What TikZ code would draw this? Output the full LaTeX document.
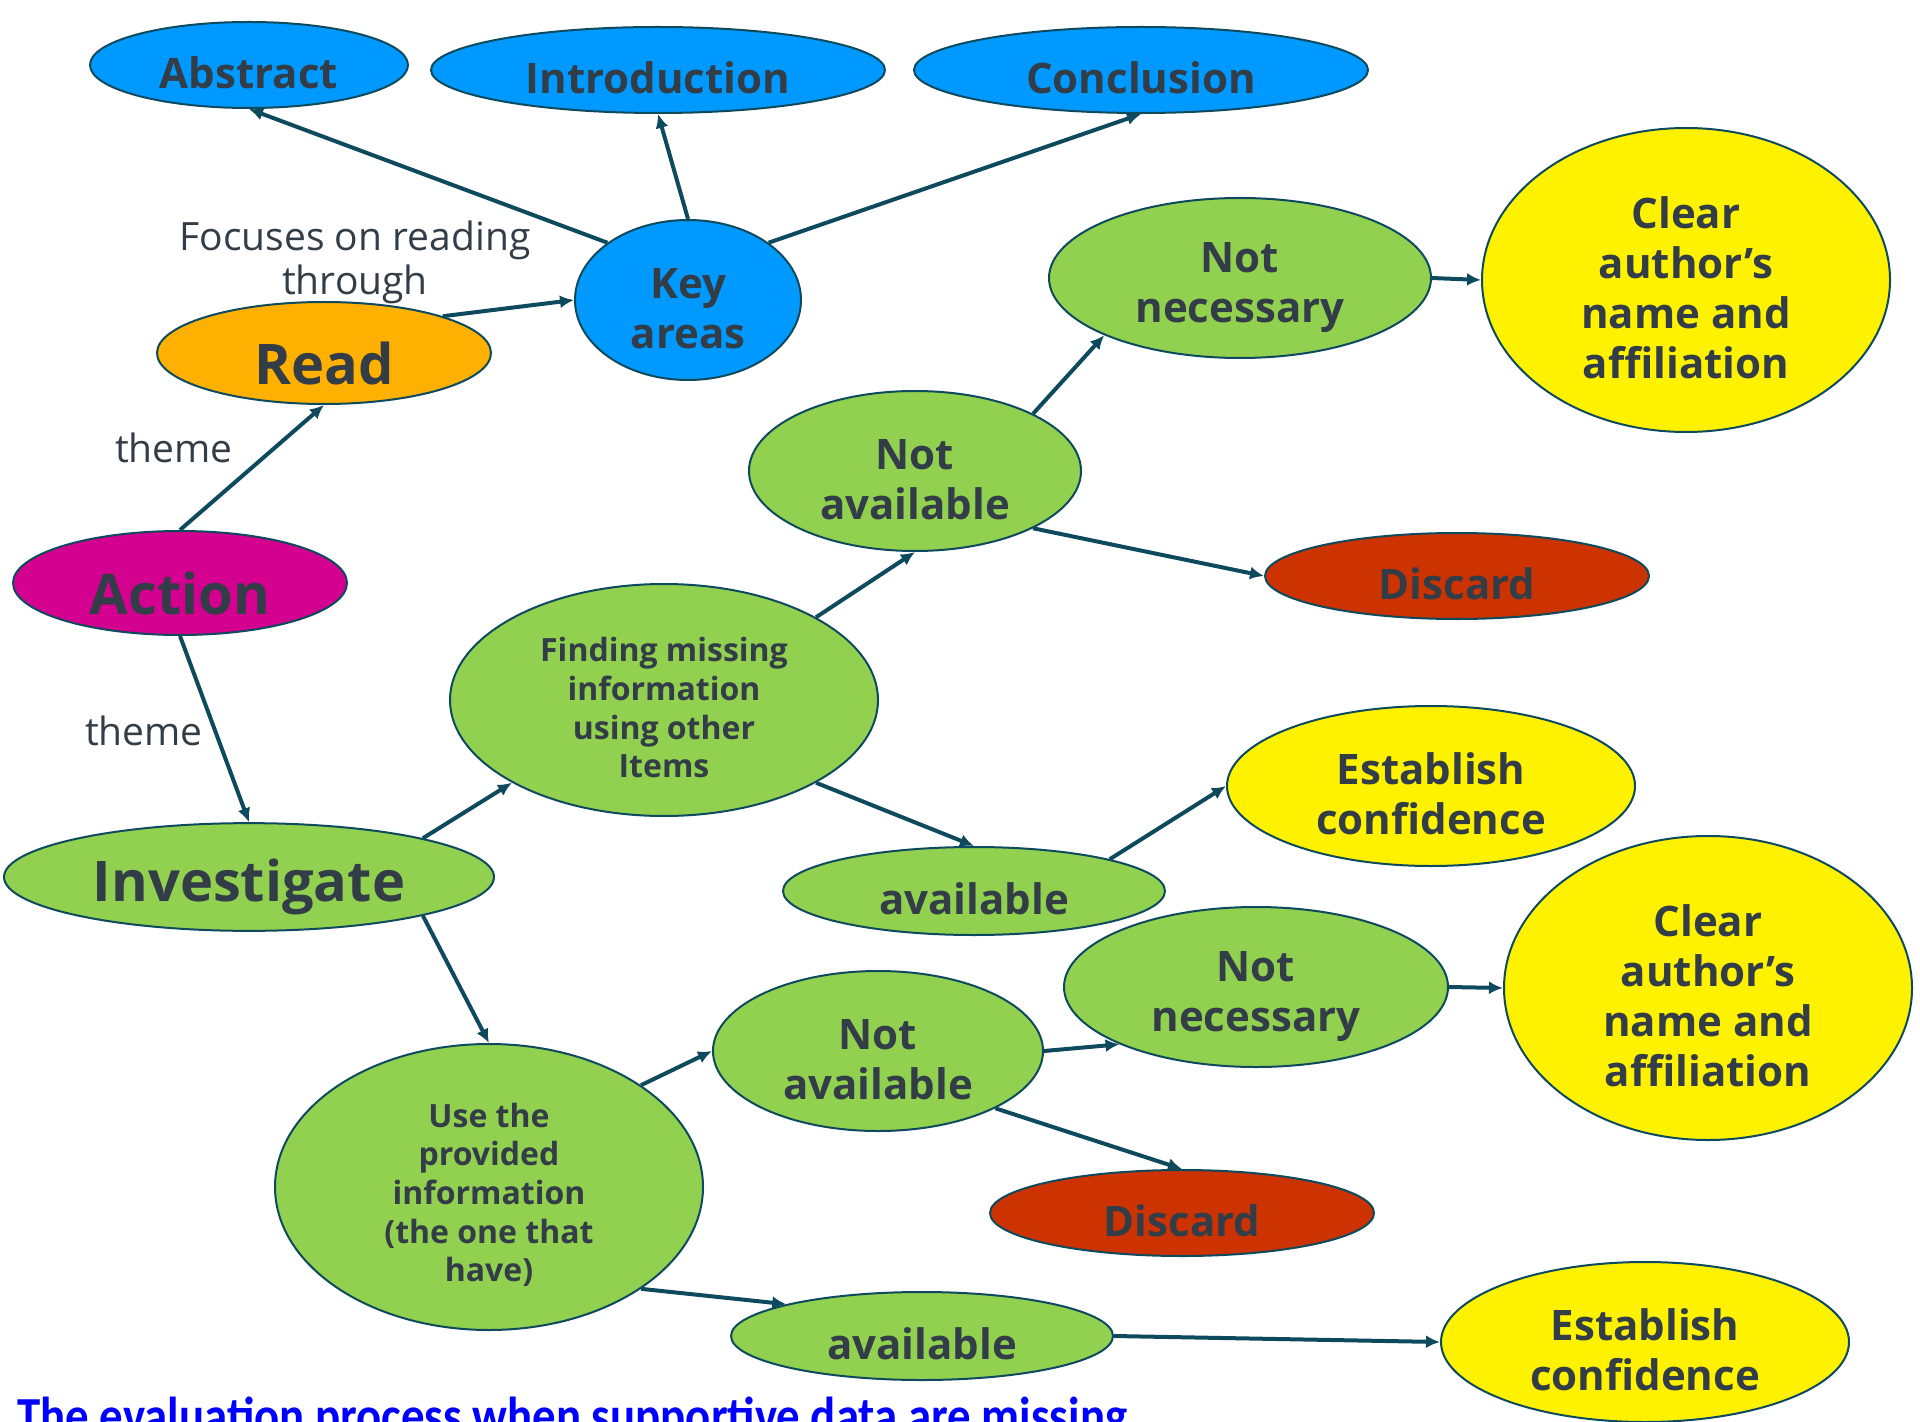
\documentclass[tikz,border=0pt]{standalone}
\usepackage{fontspec}
\setmainfont{Open Sans}
\newfontfamily\capfont{Carlito}
\usetikzlibrary{arrows.meta,shapes.geometric}
\definecolor{edge}{HTML}{0D4A5E}
\definecolor{ink}{HTML}{333D47}
\definecolor{skyblue}{HTML}{0099FF}
\definecolor{amber}{HTML}{FFB000}
\definecolor{magenta}{HTML}{D4008F}
\definecolor{leaf}{HTML}{92D050}
\definecolor{rust}{HTML}{CC3300}
\newcommand\lift[1][1.15em]{\rule{0pt}{#1}}

\begin{document}
\begin{tikzpicture}[x=.5pt,y=-.5pt,
    bub/.style={ellipse,draw=edge,line width=1pt,inner sep=0pt,align=center,text=ink,
      font=\fontsize{21}{25}\selectfont\bfseries,execute at begin node={\rule{0pt}{1.12em}}},
    big/.style={bub,font=\fontsize{28}{32}\selectfont\bfseries},
    small/.style={bub,font=\fontsize{16}{19.3}\selectfont\bfseries},
    arr/.style={-{Latex[length=7pt,width=6.5pt]},line width=2pt,draw=edge},
    lbl/.style={text=ink,align=center,font=\fontsize{19.5}{22}\selectfont}]
    \useasboundingbox (0,0) rectangle (1920,1422);
    % top row
    \node[bub,fill=skyblue,minimum width=159pt,minimum height=43pt] (abs) at (249,65) {Abstract};
    \node[bub,fill=skyblue,minimum width=227pt,minimum height=43pt] (intro) at (658,70) {Introduction};
    \node[bub,fill=skyblue,minimum width=227pt,minimum height=43pt] (concl) at (1141,70) {Conclusion};
    \node[bub,fill=skyblue,minimum width=113pt,minimum height=80pt] (key) at (688,300) {\lift Key\\areas};
    \node[big,fill=amber,minimum width=167pt,minimum height=51pt] (read) at (324,353) {Read};
    \node[big,fill=magenta,minimum width=167pt,minimum height=52pt] (act) at (180,583) {Action};
    \node[big,fill=leaf,minimum width=245pt,minimum height=53pt] (inv) at (249,877) {Investigate};
    % finding branch
    \node[small,fill=leaf,minimum width=214pt,minimum height=116pt] (find) at (664,700) {\lift[1.25em]Finding missing\\information\\using other\\Items};
    \node[bub,fill=leaf,minimum width=166pt,minimum height=80pt] (na1) at (915,471) {\lift Not\\available};
    \node[bub,fill=leaf,minimum width=191pt,minimum height=80pt] (nn1) at (1240,278) {\lift Not\\necessary};
    \node[bub,fill=yellow,minimum width=204pt,minimum height=152pt] (clr1) at (1686,280) {\lift Clear\\author's\\name and\\affiliation};
    \node[bub,fill=rust,minimum width=192pt,minimum height=43pt] (dis1) at (1457,576) {Discard};
    \node[bub,fill=leaf,minimum width=191pt,minimum height=44pt] (av1) at (974,891) {available};
    \node[bub,fill=yellow,minimum width=204pt,minimum height=80pt] (est1) at (1431,786) {\lift Establish\\confidence};
    % provided branch
    \node[small,fill=leaf,minimum width=214pt,minimum height=143pt] (use) at (489,1187) {\lift[1.25em]Use the\\provided\\information\\(the one that\\have)};
    \node[bub,fill=leaf,minimum width=165pt,minimum height=80pt] (na2) at (878,1051) {\lift Not\\available};
    \node[bub,fill=leaf,minimum width=192pt,minimum height=80pt] (nn2) at (1256,987) {\lift Not\\necessary};
    \node[bub,fill=yellow,minimum width=204pt,minimum height=152pt] (clr2) at (1708,988) {\lift Clear\\author's\\name and\\affiliation};
    \node[bub,fill=rust,minimum width=192pt,minimum height=43pt] (dis2) at (1182,1213) {Discard};
    \node[bub,fill=leaf,minimum width=191pt,minimum height=44pt] (av2) at (922,1336) {available};
    \node[bub,fill=yellow,minimum width=204pt,minimum height=80pt] (est2) at (1645,1342) {\lift Establish\\confidence};
    % labels
    \node[lbl] (focus) at (355,262) {Focuses on reading\\through};
    \node[lbl] (th1) at (174,448) {theme};
    \node[lbl] (th2) at (144,731) {theme};
    \node[anchor=base west,inner sep=0pt,text=blue,font=\capfont\fontsize{26}{30}\selectfont\bfseries] (cap) at (17,1433) {\scalebox{.9}[1]{The evaluation process when supportive data are missing}};
    % connectors
    \draw[arr] (key.north west) -- (abs.south);
    \draw[arr] (key.north) -- (intro.south);
    \draw[arr] (key.north east) -- (concl.south);
    \draw[arr] (read.north east) -- (key.west);
    \draw[arr] (act.north) -- (read.south);
    \draw[arr] (act.south) -- (inv.north);
    \draw[arr] (inv.north east) -- (find.south west);
    \draw[arr] (inv.south east) -- (use.north);
    \draw[arr] (find.north east) -- (na1.south);
    \draw[arr] (find.south east) -- (av1.north);
    \draw[arr] (na1.north east) -- (nn1.south west);
    \draw[arr] (na1.south east) -- (dis1.west);
    \draw[arr] (nn1.east) -- (clr1.west);
    \draw[arr] (av1.north east) -- (est1.west);
    \draw[arr] (use.north east) -- (na2.west);
    \draw[arr] (use.south east) -- (av2.north west);
    \draw[arr] (na2.east) -- (nn2.south west);
    \draw[arr] (na2.south east) -- (dis2.north);
    \draw[arr] (nn2.east) -- (clr2.west);
    \draw[arr] (av2.east) -- (est2.west);
\end{tikzpicture}
\end{document}
